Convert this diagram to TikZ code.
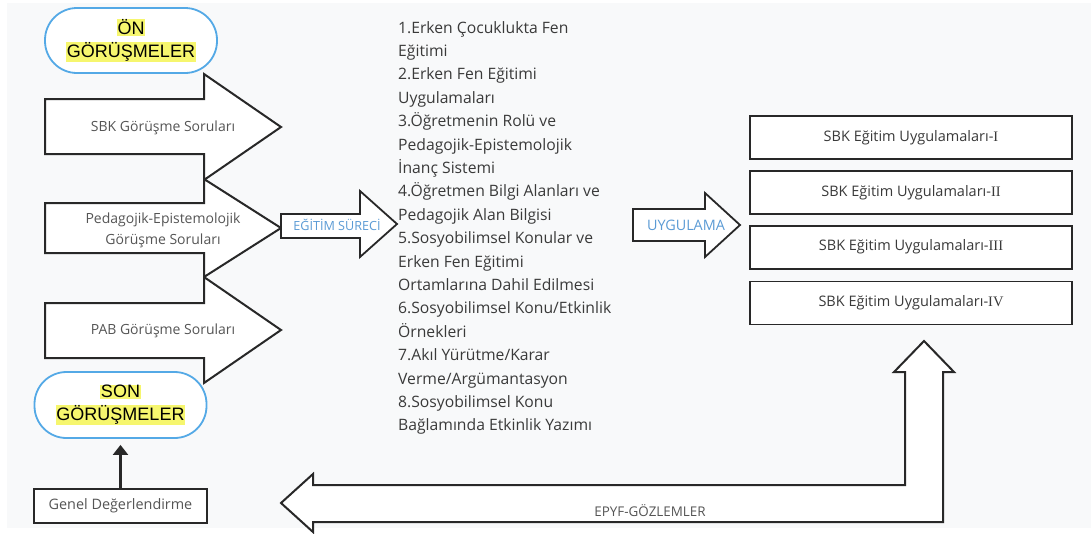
\documentclass[tikz,border=0pt]{standalone}
\usepackage{fontspec}
\setmainfont{Open Sans}
\newfontfamily\arialfont{Liberation Sans}
\newfontfamily\romanfont{Liberation Serif}
\usetikzlibrary{arrows.meta}
\usetikzlibrary{positioning}

\definecolor{bggray}{RGB}{248,249,250}
\definecolor{txtgray}{RGB}{85,85,85}
\definecolor{listgray}{RGB}{58,58,58}
\definecolor{lblue}{RGB}{91,155,213}
\definecolor{edgeblue}{RGB}{84,169,230}
\definecolor{hlyellow}{RGB}{246,246,110}
\definecolor{edgegray}{RGB}{40,40,40}

\newcommand{\hlt}[1]{{\setlength{\fboxsep}{0.8pt}\colorbox{hlyellow}{#1}}}
\newcommand{\rnum}[1]{{\romanfont #1}}

\tikzset{
  blockarrow/.style={draw=edgegray,fill=white,line width=2pt,line join=miter},
  arrowlbl/.style={font=\fontsize{14}{21}\selectfont,text=txtgray,align=center},
  stagebox/.style={draw=edgeblue,fill=white,line width=1.8pt,rounded corners=32pt,
    minimum width=172pt,minimum height=65pt,align=center,
    font=\arialfont\fontsize{18}{21}\selectfont,text=black},
  appbox/.style={draw=edgegray,fill=white,line width=1.8pt,minimum width=322pt,
    minimum height=43pt,font=\fontsize{14.5}{17}\selectfont,text=listgray}
}

\begin{document}
\begin{tikzpicture}[x=1pt,y=-1pt]
\useasboundingbox (0,0) rectangle (1091,533);
\fill[bggray] (7,3) rectangle (1091,528);

% on ve son gorusmeler
\node[stagebox] (on) at (131,40.5) {\hlt{ÖN}\\[2pt]\hlt{GÖRÜŞMELER}};
\node[stagebox,minimum height=66pt] (son) at (120.5,405) {\hlt{SON}\\[2pt]\hlt{GÖRÜŞMELER}};

% gorusme sorulari
\draw[blockarrow] (45,99) -- (204,99) -- (204,74) -- (281,127) -- (204,180) -- (204,154) -- (45,154) -- cycle;
\draw[blockarrow] (45,203) -- (204,203) -- (204,179) -- (281,228) -- (204,277) -- (204,253) -- (45,253) -- cycle;
\draw[blockarrow] (45,303) -- (204,303) -- (204,277) -- (281,330) -- (204,383) -- (204,358) -- (45,358) -- cycle;
\node[arrowlbl] (sbk) at (163,128) {SBK Görüşme Soruları};
\node[arrowlbl] (ped) at (163,230) {Pedagojik-Epistemolojik\\Görüşme Soruları};
\node[arrowlbl] (pab) at (163,331) {PAB Görüşme Soruları};

% egitim sureci
\draw[blockarrow,line width=1.8pt] (281,214) -- (360,214) -- (360,191) -- (397,224) -- (360,257) -- (360,238) -- (281,238) -- cycle;
\node[font=\fontsize{12.6}{15}\selectfont,text=lblue] (surec) at (337,225) {EĞİTİM SÜRECİ};

% konu listesi
\node[anchor=north west,inner sep=0pt,align=left,text=listgray,
  font=\fontsize{15.7}{23.4}\selectfont] (liste) at (398,21) {%
1.Erken Çocuklukta Fen\\
Eğitimi\\
2.Erken Fen Eğitimi\\
Uygulamaları\\
3.Öğretmenin Rolü ve\\
Pedagojik-Epistemolojik\\
İnanç Sistemi\\
4.Öğretmen Bilgi Alanları ve\\
Pedagojik Alan Bilgisi\\
5.Sosyobilimsel Konular ve\\
Erken Fen Eğitimi\\
Ortamlarına Dahil Edilmesi\\
6.Sosyobilimsel Konu/Etkinlik\\
Örnekleri\\
7.Akıl Yürütme/Karar\\
Verme/Argümantasyon\\
8.Sosyobilimsel Konu\\
Bağlamında Etkinlik Yazımı};

% uygulama
\draw[blockarrow,line width=1.8pt] (633,209) -- (705,209) -- (705,193) -- (740,225) -- (705,257) -- (705,241) -- (633,241) -- cycle;
\node[font=\fontsize{14.4}{17}\selectfont,text=lblue] (uyg) at (686,225) {UYGULAMA};

\node[appbox] (u1) at (911,137.5) {SBK Eğitim Uygulamaları-\rnum{I}};
\node[appbox,below=10pt of u1] (u2) {SBK Eğitim Uygulamaları-\rnum{II}};
\node[appbox,below=10pt of u2] (u3) {SBK Eğitim Uygulamaları-\rnum{III}};
\node[appbox,below=11pt of u3] (u4) {SBK Eğitim Uygulamaları-\rnum{IV}};

% gozlemler
\draw[blockarrow] (281,503) -- (313,474) -- (313,485) -- (905,485) -- (905,372) -- (894,372) -- (924,341)
  -- (954,372) -- (943,372) -- (943,522) -- (313,522) -- (313,532) -- cycle;
\node[font=\fontsize{13.4}{16}\selectfont,text=txtgray] (epyf) at (650,511) {EPYF-GÖZLEMLER};

% genel degerlendirme
\node[draw=edgegray,fill=white,line width=1.8pt,minimum width=173pt,minimum height=34pt,
  font=\fontsize{14.4}{17}\selectfont,text=txtgray] (genel) at (120.5,506) {Genel Değerlendirme};
\draw[-{Triangle[length=10pt,width=15pt]},line width=2.2pt,edgegray,shorten >=6pt] (genel) -- (son);
\end{tikzpicture}
\end{document}
